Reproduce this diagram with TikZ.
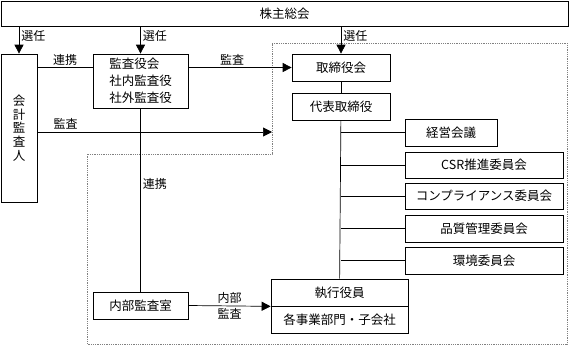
\documentclass[tikz,border=0pt]{standalone}
\usepackage{fontspec}
\newfontfamily\jpfont{Noto Sans CJK JP}
\usepackage{tikz}
\usetikzlibrary{arrows.meta,positioning}

\begin{document}
\begin{tikzpicture}[
x=1pt, y=-1pt,
font=\jpfont\fontsize{12.5}{14}\selectfont,
box/.style={draw, line width=0.7pt, inner sep=0pt, minimum height=27pt, align=center},
arr/.style={-{Triangle[length=9pt, width=9pt]}, line width=0.7pt},
lnk/.style={line width=0.7pt},
lbl/.style={font=\jpfont\fontsize{12}{13}\selectfont, inner sep=2pt}
]
\useasboundingbox (0,0) rectangle (570,346);

\draw[gray, densely dotted, line width=0.8pt] (272,43) -- (567,43) -- (567,344) -- (87,344) -- (87,154) -- (272,154) -- cycle;
\coordinate (grpin) at (272,132);

\node[box, minimum width=567pt, minimum height=25pt] (gm) at (284.5,13.5) {株主総会};
\node[box, minimum width=36pt, minimum height=148pt, font=\jpfont\fontsize{12.5}{13.8}\selectfont] (ext) at (19,128) {会\\計\\監\\査\\人};
\node[box, minimum width=95pt, minimum height=54pt, align=left, font=\jpfont\fontsize{12.5}{17}\selectfont] (aud) at (140.5,81) {監査役会\\社内監査役\\社外監査役};
\node[box, minimum width=98pt] (brd) at (341,67.5) {取締役会};
\node[box, minimum width=98pt, below=12pt of brd] (rep) {代表取締役};
\node[box, minimum width=92pt] (mtg) at (451,132.5) {経営会議};
\node[box, minimum width=158pt, minimum height=26pt] (csr) at (484,165) {CSR推進委員会};
\node[box, minimum width=158pt, minimum height=26pt] (cmp) at (484,196) {コンプライアンス委員会};
\node[box, minimum width=158pt] (qc) at (484,228.5) {品質管理委員会};
\node[box, minimum width=158pt] (env) at (484,260.5) {環境委員会};
\node[box, minimum width=137pt] (exe) at (339.5,292.5) {執行役員};
\node[box, minimum width=137pt, below=0pt of exe] (div) {各事業部門・子会社};
\node[box, minimum width=95pt] (ia) at (140.5,305.5) {内部監査室};

\draw[arr] (gm.south -| ext) -- node[lbl, right, pos=0.35]{選任} (ext.north);
\draw[arr] (gm.south -| aud) -- node[lbl, right, pos=0.35]{選任} (aud.north);
\draw[arr] (gm.south -| brd) -- node[lbl, right, pos=0.35]{選任} (brd.north);

\draw[lnk] (ext.east |- brd.west) -- node[lbl, above]{連携} (aud.west |- brd.west);
\draw[arr] (aud.east |- brd.west) -- node[lbl, above, xshift=-8pt]{監査} (brd.west);
\draw[arr] (ext.east |- grpin) -- node[lbl, above, pos=0.12]{監査} (grpin);

\draw[lnk] (brd) -- (rep);
\draw[lnk] (rep) -- (exe);
\foreach \n in {mtg,csr,cmp,qc,env}
  \draw[lnk] (rep.south |- \n.west) -- (\n.west);

\draw[lnk] (aud) -- node[lbl, right, pos=0.41]{連携} (ia);
\draw[arr] (ia.east) -- node[lbl, above]{内部} node[lbl, below]{監査} (exe.south west);
\end{tikzpicture}
\end{document}
